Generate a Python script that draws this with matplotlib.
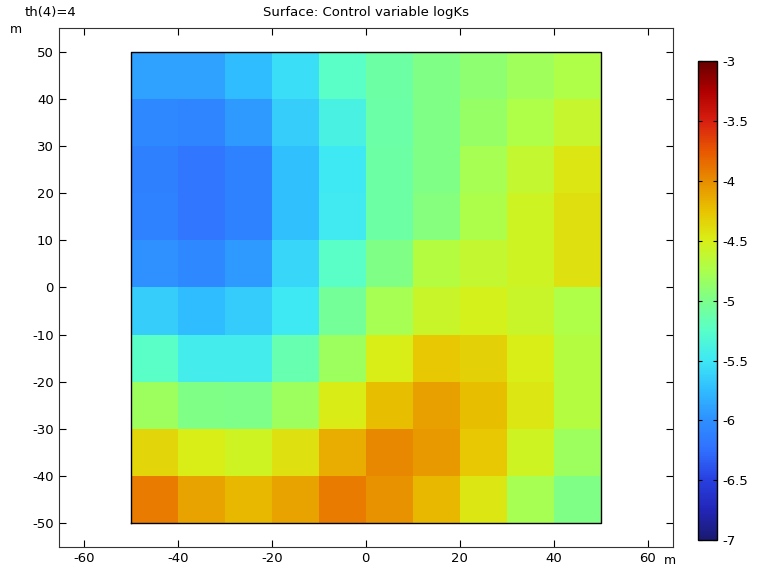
import numpy as np
import matplotlib
matplotlib.use("Agg")
import matplotlib.pyplot as plt
from matplotlib.colors import LinearSegmentedColormap

plt.rcParams["axes.unicode_minus"] = False

# cell edges (m)
x_edges = [-50, -40, -30, -20, -10, 0, 10, 20, 30, 40, 50]
y_edges = [-50, -40, -30, -20, -10, 0, 10, 20, 30, 40, 50]

# logKs per cell, rows listed from top (y=40..50) to bottom (y=-50..-40)
row_40_50 = [-5.90, -5.90, -5.75, -5.55, -5.25, -5.10, -4.98, -4.90, -4.80, -4.72]
row_30_40 = [-6.05, -6.08, -5.95, -5.65, -5.40, -5.12, -4.98, -4.85, -4.72, -4.60]
row_20_30 = [-6.12, -6.20, -6.10, -5.72, -5.50, -5.10, -4.98, -4.78, -4.62, -4.45]
row_10_20 = [-6.10, -6.20, -6.10, -5.72, -5.48, -5.10, -4.95, -4.75, -4.55, -4.40]
row_0_10 = [-6.00, -6.05, -5.95, -5.60, -5.25, -4.98, -4.70, -4.62, -4.55, -4.42]
row_m10_0 = [-5.65, -5.75, -5.67, -5.50, -5.05, -4.77, -4.58, -4.52, -4.58, -4.72]
row_m20_m10 = [-5.25, -5.45, -5.45, -5.15, -4.82, -4.50, -4.28, -4.32, -4.50, -4.70]
row_m30_m20 = [-4.82, -4.98, -5.00, -4.82, -4.48, -4.22, -4.08, -4.22, -4.45, -4.70]
row_m40_m30 = [-4.35, -4.50, -4.55, -4.42, -4.15, -3.98, -4.05, -4.28, -4.55, -4.82]
row_m50_m40 = [-3.92, -4.10, -4.20, -4.10, -3.92, -4.02, -4.20, -4.45, -4.77, -4.98]

rows_top_down = [row_40_50, row_30_40, row_20_30, row_10_20, row_0_10,
                 row_m10_0, row_m20_m10, row_m30_m20, row_m40_m30, row_m50_m40]
logks = np.array(rows_top_down[::-1])

cbar_ticks = [-7, -6.5, -6, -5.5, -5, -4.5, -4, -3.5, -3]
x_ticks = [-60, -40, -20, 0, 20, 40, 60]
y_ticks = [-50, -40, -30, -20, -10, 0, 10, 20, 30, 40, 50]

# COMSOL-like rainbow
rainbow = LinearSegmentedColormap.from_list("comsol_rainbow", [
    "#1a1a70", "#2226b8", "#2840e0", "#3070ff", "#2e90ff", "#30bcff",
    "#3ee8f4", "#58ffc8", "#7cff8c", "#aaff4c", "#d8f018", "#e8c400",
    "#e88e00", "#e85800", "#d82010", "#b00000", "#680000"])

fig = plt.figure(figsize=(7.58, 5.71), dpi=100)
ax = fig.add_axes([0.075, 0.042, 0.815, 0.909])

mesh = ax.pcolormesh(x_edges, y_edges, logks, cmap=rainbow, vmin=-7, vmax=-3)
bx = [x_edges[0], x_edges[-1], x_edges[-1], x_edges[0], x_edges[0]]
by = [y_edges[0], y_edges[0], y_edges[-1], y_edges[-1], y_edges[0]]
ax.plot(bx, by, color="black", lw=1.0)

ax.set_xlim(-65.3, 65.3)
ax.set_ylim(-55.2, 55.2)
ax.set_aspect("equal", adjustable="box")
ax.set_xticks(x_ticks)
ax.set_yticks(y_ticks)
ax.tick_params(direction="in", top=True, right=True, labelsize=9.5, length=5)
for s in ax.spines.values():
    s.set_color("#333333")

fig.text(0.483, 0.978, "Surface: Control variable logKs", ha="center", va="center", fontsize=9.5)
fig.text(0.033, 0.978, "th(4)=4", ha="left", va="center", fontsize=9.5)
fig.text(0.013, 0.948, "m", ha="left", va="center", fontsize=9)
fig.text(0.876, 0.019, "m", ha="left", va="center", fontsize=9)

cax = fig.add_axes([0.921, 0.054, 0.025, 0.839])
cb = fig.colorbar(mesh, cax=cax, ticks=cbar_ticks)
cb.ax.set_yticklabels([f"{t:g}" for t in cbar_ticks])
cb.ax.tick_params(direction="in", left=True, right=True, labelsize=9.5, length=3)
cb.outline.set_linewidth(1.0)

fig.savefig("out.png", dpi=100)
